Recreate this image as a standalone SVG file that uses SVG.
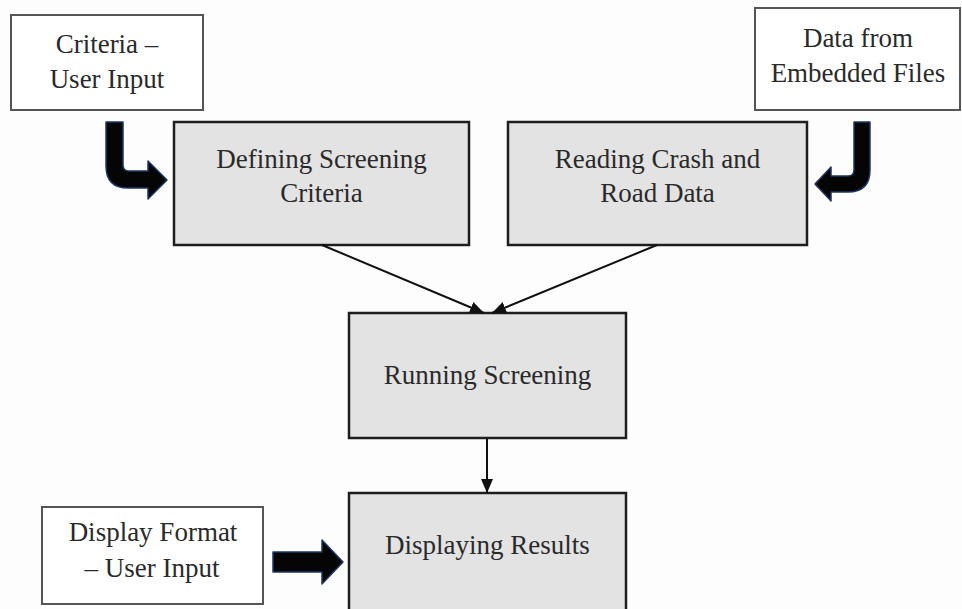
<svg xmlns="http://www.w3.org/2000/svg" width="962" height="609" viewBox="0 0 962 609">
  <defs>
    <style>
      .in { fill: #ffffff; stroke: #555555; stroke-width: 2; }
      .pr { fill: #e3e3e3; stroke: #1e1e1e; stroke-width: 2.5; }
      .t { font-family: "Liberation Serif", "Times New Roman", serif; font-size: 27px; fill: #2a2a2a; text-anchor: middle; }
      .con { stroke: #111111; stroke-width: 2; fill: none; }
      .blk { fill: #050505; stroke: #1d3566; stroke-width: 1.5; stroke-linejoin: round; }
    </style>
    <marker id="ah" markerUnits="userSpaceOnUse" markerWidth="14" markerHeight="12" refX="14" refY="6" orient="auto">
      <path d="M0,0 L14,6 L0,12 Z" fill="#111111"/>
    </marker>
  </defs>
  <rect width="962" height="609" fill="#fdfdfd"/>

  <g id="criteria-input">
    <rect class="in" x="11" y="15" width="192" height="95"/>
    <text class="t" x="107" y="53">Criteria –</text>
    <text class="t" x="107" y="88">User Input</text>
  </g>

  <g id="data-embedded">
    <rect class="in" x="755" y="8" width="205" height="102"/>
    <text class="t" x="858" y="47">Data from</text>
    <text class="t" x="858" y="82">Embedded Files</text>
  </g>

  <g id="defining">
    <rect class="pr" x="174" y="122" width="295" height="123"/>
    <text class="t" x="321.5" y="168">Defining Screening</text>
    <text class="t" x="321.5" y="202">Criteria</text>
  </g>

  <g id="reading">
    <rect class="pr" x="508" y="122" width="299" height="123"/>
    <text class="t" x="657.5" y="168">Reading Crash and</text>
    <text class="t" x="657.5" y="202">Road Data</text>
  </g>

  <g id="running">
    <rect class="pr" x="349" y="313" width="277" height="125"/>
    <text class="t" x="487.5" y="384">Running Screening</text>
  </g>

  <g id="displaying">
    <rect class="pr" x="349" y="493" width="277" height="130"/>
    <text class="t" x="487.5" y="554">Displaying Results</text>
  </g>

  <g id="display-format-input">
    <rect class="in" x="42" y="507" width="221" height="97"/>
    <text class="t" x="153" y="541">Display Format</text>
    <text class="t" x="152" y="577">– User Input</text>
  </g>

  <g id="connectors">
    <line class="con" x1="322" y1="245" x2="484" y2="313" marker-end="url(#ah)"/>
    <line class="con" x1="657" y1="245" x2="492" y2="313" marker-end="url(#ah)"/>
    <line class="con" x1="487" y1="438" x2="487" y2="493" marker-end="url(#ah)"/>
    <path class="blk" d="M106,122 L123,122 L123,165 Q123,171 129,171 L148,171 L148,161 L167,180 L148,199 L148,188 L128,188 Q106,188 106,166 Z"/>
    <path class="blk" d="M870,122 L854,122 L854,170 Q854,176 848,176 L831,176 L831,167 L815,184 L831,201 L831,192 L848,192 Q870,192 870,170 Z"/>
    <path class="blk" d="M273,552 L322,552 L322,540 L343,562 L322,584 L322,572 L273,572 Z"/>
  </g>
</svg>
